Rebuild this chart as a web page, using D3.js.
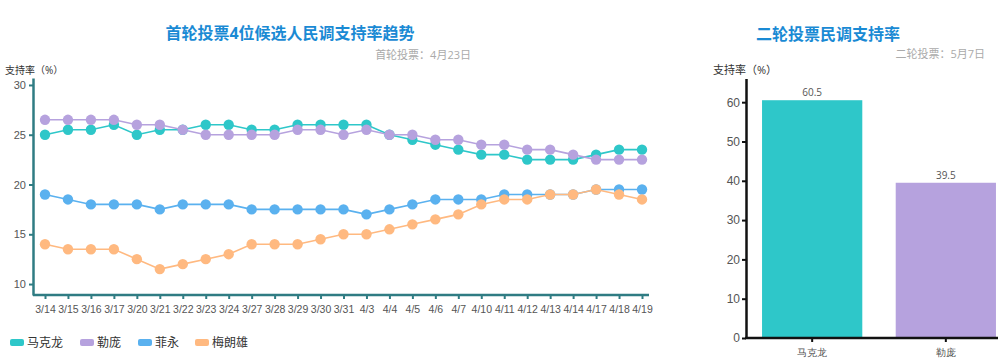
<!DOCTYPE html>
<html><head><meta charset="utf-8">
<script src="https://cdn.jsdelivr.net/npm/d3@7/dist/d3.min.js"></script>
<style>
html,body{margin:0;padding:0;background:#fff;}
svg{display:block;font-family:"Open Sans","Noto Sans CJK SC",sans-serif;}
</style></head>
<body>
<svg id="c" width="998" height="358"></svg>
<script>
const dates = ["3/14","3/15","3/16","3/17","3/20","3/21","3/22","3/23","3/24","3/27","3/28","3/29","3/30","3/31","4/3","4/4","4/5","4/6","4/7","4/10","4/11","4/12","4/13","4/14","4/17","4/18","4/19"];
const candidates = ["马克龙","勒庞","菲永","梅朗雄"];
const macron   = [25,25.5,25.5,26,25,25.5,25.5,26,26,25.5,25.5,26,26,26,26,25,24.5,24,23.5,23,23,22.5,22.5,22.5,23,23.5,23.5];
const lepen    = [26.5,26.5,26.5,26.5,26,26,25.5,25,25,25,25,25.5,25.5,25,25.5,25,25,24.5,24.5,24,24,23.5,23.5,23,22.5,22.5,22.5];
const fillon   = [19,18.5,18,18,18,17.5,18,18,18,17.5,17.5,17.5,17.5,17.5,17,17.5,18,18.5,18.5,18.5,19,19,19,19,19.5,19.5,19.5];
const melenchon= [14,13.5,13.5,13.5,12.5,11.5,12,12.5,13,14,14,14,14.5,15,15,15.5,16,16.5,17,18,18.5,18.5,19,19,19.5,19,18.5];
const colors = ["#2ec7c9","#b6a2de","#5ab1ef","#ffb980"];
const yTicksLeft = [10,15,20,25,30];
const round2Names = ["马克龙","勒庞"];
const round2Values = [60.5,39.5];
const yTicksRight = [0,10,20,30,40,50,60];

const svg = d3.select("#c");
const series = [macron, lepen, fillon, melenchon];

// ---------- Left chart ----------
const x = d3.scalePoint().domain(dates).range([45, 642]);
const y = d3.scaleLinear().domain([8.9, 30.7]).range([295, 78]);
const axisColor = "#2f7c83";

const gx = svg.append("g").attr("transform","translate(0,295)")
  .call(d3.axisBottom(x).tickSize(4).tickSizeOuter(0));
gx.select(".domain").attr("d","M33,0H649").attr("stroke",axisColor).attr("stroke-width",2.5);
gx.selectAll(".tick line").attr("stroke",axisColor).attr("stroke-width",2);
gx.selectAll(".tick text").attr("fill","#555").attr("font-size","10.5px").attr("dy","1.05em");

const gy = svg.append("g").attr("transform","translate(33,0)")
  .call(d3.axisLeft(y).tickValues(yTicksLeft).tickSize(4).tickSizeOuter(0));
gy.select(".domain").attr("stroke",axisColor).attr("stroke-width",2.5);
gy.selectAll(".tick line").attr("stroke",axisColor).attr("stroke-width",2);
gy.selectAll(".tick text").attr("fill","#555").attr("font-size","11px").attr("x",-7);

const line = d3.line().x((d,i)=>x(dates[i])).y(d=>y(d));
series.forEach((s,k)=>{
  const g = svg.append("g");
  g.append("path").datum(s).attr("d",line).attr("fill","none")
    .attr("stroke",colors[k]).attr("stroke-width",1.6);
  g.selectAll("circle").data(s).join("circle")
    .attr("cx",(d,i)=>x(dates[i])).attr("cy",d=>y(d)).attr("r",5.2)
    .attr("fill",colors[k]);
});

svg.append("text").attr("x",290).attr("y",39).attr("text-anchor","middle")
  .attr("font-size","16px").attr("font-weight","bold").attr("fill","#1a8ad4")
  .text("首轮投票4位候选人民调支持率趋势");
svg.append("text").attr("x",471).attr("y",59).attr("text-anchor","end")
  .attr("font-size","11px").attr("fill","#aaa").text("首轮投票：4月23日");
svg.append("text").attr("x",5).attr("y",74)
  .attr("font-size","10px").attr("fill","#333").text("支持率（%）");

// legend
const legX = [10, 80, 138, 195];
candidates.forEach((c,k)=>{
  svg.append("rect").attr("x",legX[k]).attr("y",339).attr("width",14).attr("height",7)
    .attr("rx",2).attr("fill",colors[k]);
  svg.append("text").attr("x",legX[k]+17).attr("y",347).attr("font-size","12px")
    .attr("fill","#333").text(c);
});

// ---------- Right chart ----------
const xb = d3.scaleBand().domain(round2Names).range([746, 1012]).paddingInner(0.25).paddingOuter(0.12);
const yb = d3.scaleLinear().domain([0, 66]).range([338, 78.6]);

svg.append("g").selectAll("rect").data(round2Values).join("rect")
  .attr("x",(d,i)=>xb(round2Names[i])).attr("width",xb.bandwidth())
  .attr("y",d=>yb(d)).attr("height",d=>338-yb(d))
  .attr("fill",(d,i)=>colors[i]);
svg.append("g").selectAll("text").data(round2Values).join("text")
  .attr("x",(d,i)=>xb(round2Names[i])+xb.bandwidth()/2).attr("y",d=>yb(d)-4)
  .attr("text-anchor","middle").attr("font-size","10px").attr("fill","#555")
  .text(d=>d);

const gbx = svg.append("g").attr("transform","translate(0,338)")
  .call(d3.axisBottom(xb).tickSize(4).tickSizeOuter(0));
gbx.select(".domain").attr("d","M745,0H998").attr("stroke","#111").attr("stroke-width",2.5);
gbx.selectAll(".tick line").attr("stroke","#111").attr("stroke-width",2);
gbx.selectAll(".tick text").attr("fill","#555").attr("font-size","10px").attr("dy","1.1em");

const gby = svg.append("g").attr("transform","translate(746,0)")
  .call(d3.axisLeft(yb).tickValues(yTicksRight).tickSize(4).tickSizeOuter(0));
gby.select(".domain").attr("stroke","#111").attr("stroke-width",2.5);
gby.selectAll(".tick line").attr("stroke","#111").attr("stroke-width",2);
gby.selectAll(".tick text").attr("fill","#555").attr("font-size","12px").attr("x",-6);

svg.append("text").attr("x",828).attr("y",40).attr("text-anchor","middle")
  .attr("font-size","16px").attr("font-weight","bold").attr("fill","#1a8ad4")
  .text("二轮投票民调支持率");
svg.append("text").attr("x",985).attr("y",58).attr("text-anchor","end")
  .attr("font-size","11px").attr("fill","#aaa").text("二轮投票：5月7日");
svg.append("text").attr("x",713).attr("y",74)
  .attr("font-size","11px").attr("fill","#333").text("支持率（%）");
</script>
</body></html>
